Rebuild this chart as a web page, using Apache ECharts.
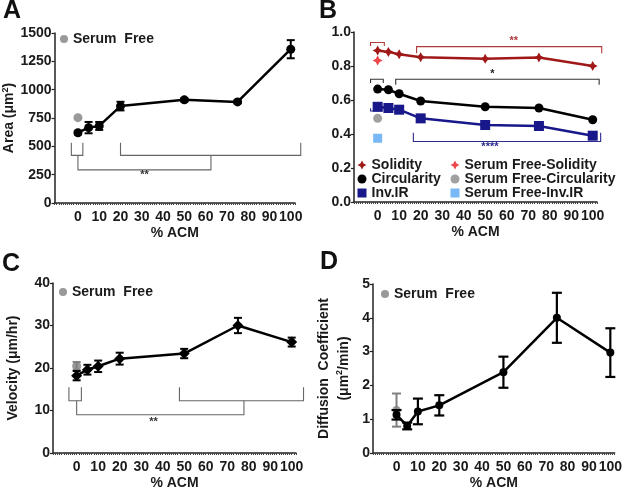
<!DOCTYPE html>
<html><head><meta charset="utf-8">
<script src="https://cdn.jsdelivr.net/npm/echarts@6/dist/echarts.min.js"></script>
<style>html,body{margin:0;padding:0;background:#fff}#c{width:625px;height:491px}</style>
</head><body><div id="c"></div>
<script>
// ---------- data ----------
const acm = [0, 5, 10, 20, 50, 75, 100];
const xTickLabels = [0, 10, 20, 30, 40, 50, 60, 70, 80, 90, 100];

const areaMean = [620, 665, 680, 855, 910, 892, 1357];
const areaErr = [15, 50, 35, 38, 15, 12, 80];
const areaSerumFree = [753];

const solidity = [0.891, 0.883, 0.869, 0.852, 0.842, 0.850, 0.800];
const circularity = [0.664, 0.660, 0.637, 0.594, 0.560, 0.553, 0.484];
const invIR = [0.560, 0.553, 0.543, 0.492, 0.453, 0.447, 0.390];
const sfSolidity = [0.832];
const sfCircularity = [0.492];
const sfInvIR = [0.375];

const velocity = [18.2, 19.6, 20.4, 22.2, 23.4, 30.0, 26.1];
const velocityErr = [1.1, 1.15, 1.35, 1.4, 1.1, 1.8, 1.05];
const velocitySerumFree = [20.5];
const velocitySerumFreeErr = [0.9];

const diffusion = [1.13, 0.80, 1.23, 1.41, 2.39, 4.00, 2.97];
const diffusionErr = [0.14, 0.10, 0.38, 0.30, 0.46, 0.74, 0.72];
const diffusionSerumFree = [1.27];
const diffusionSerumFreeErr = [0.49];

// significance brackets (data units)
const bracketsA = [
  [[-3.1, 531], [-3.1, 420], [2.3, 420], [2.3, 531]],
  [[20, 531], [20, 420], [104.7, 420], [104.7, 531]],
  [[0, 420], [0, 292], [62.5, 292], [62.5, 420]]
];
const starsA = [{ t: '**', x: 31.3, y: 245 }];
const bracketsBSol = [
  [[-3.3, 0.918], [-3.3, 0.938], [3.1, 0.938], [3.1, 0.918]],
  [[18.1, 0.875], [18.1, 0.914], [104.2, 0.914], [104.2, 0.875]]
];
const starsBSol = [{ t: '**', x: 63.3, y: 0.948 }];
const bracketsBCirc = [
  [[-3.3, 0.700], [-3.3, 0.722], [2.6, 0.722], [2.6, 0.700]],
  [[8.4, 0.690], [8.4, 0.722], [103, 0.722], [103, 0.690]]
];
const starsBCirc = [{ t: '*', x: 53.4, y: 0.752 }];
const bracketsBInv = [
  [[-3.3, 0.551], [-3.3, 0.535], [2.0, 0.535], [2.0, 0.551]],
  [[16.6, 0.408], [16.6, 0.356], [103.7, 0.356], [103.7, 0.408]]
];
const starsBInv = [{ t: '****', x: 52.2, y: 0.322 }];
const bracketsC = [
  [[-3.6, 15.5], [-3.6, 12.3], [2.2, 12.3], [2.2, 15.5]],
  [[47.8, 15.5], [47.8, 12.3], [105.5, 12.3], [105.5, 15.5]],
  [[0, 12.3], [0, 9.0], [77.8, 9.0], [77.8, 12.3]]
];
const starsC = [{ t: '**', x: 35.7, y: 7.4 }];

// ---------- helpers ----------
const FONT = 'Liberation Sans';
const TXT = '#1a1a1a';
const pair = (xs, ys) => xs.map((x, i) => [x, ys[i]]);
const errData = (xs, m, e) => xs.map((x, i) => [x, m[i] - e[i], m[i] + e[i]]);

function errSeries(gi, data, cap, color, w, z) {
  return {
    type: 'custom', xAxisIndex: gi, yAxisIndex: gi, silent: true, z: z || 3,
    encode: { x: 0, y: [1, 2] }, data: data,
    renderItem: function (params, api) {
      const x = api.value(0), lo = api.value(1), hi = api.value(2);
      const a = api.coord([x, lo]), b = api.coord([x, hi]);
      const st = { stroke: color, lineWidth: w };
      return { type: 'group', children: [
        { type: 'line', shape: { x1: a[0], y1: a[1], x2: b[0], y2: b[1] }, style: st },
        { type: 'line', shape: { x1: a[0] - cap, y1: a[1], x2: a[0] + cap, y2: a[1] }, style: st },
        { type: 'line', shape: { x1: b[0] - cap, y1: b[1], x2: b[0] + cap, y2: b[1] }, style: st }
      ] };
    }
  };
}

function bracketSeries(gi, brackets, stars, color, starColor, starSize) {
  const out = [];
  out.push({
    type: 'custom', xAxisIndex: gi, yAxisIndex: gi, silent: true, z: 2,
    data: brackets.map(b => [b[0][0], b[0][1]]),
    renderItem: function (params, api) {
      const pts = brackets[params.dataIndex].map(p => api.coord(p));
      return { type: 'polyline', shape: { points: pts }, style: { stroke: color, lineWidth: 1.1, fill: null } };
    }
  });
  out.push({
    type: 'custom', xAxisIndex: gi, yAxisIndex: gi, silent: true, z: 2,
    data: stars.map(s => [s.x, s.y]),
    renderItem: function (params, api) {
      const p = api.coord([api.value(0), api.value(1)]);
      return { type: 'text', style: { text: stars[params.dataIndex].t, x: p[0], y: p[1],
        textAlign: 'center', textVerticalAlign: 'middle', fill: starColor,
        font: 'bold ' + starSize + 'px ' + FONT } };
    }
  });
  return out;
}

const grids = [
  { left: 52, top: 33, width: 243, height: 170 },
  { left: 354, top: 32, width: 243, height: 170 },
  { left: 53, top: 283, width: 243, height: 172 },
  { left: 373, top: 284, width: 243, height: 170 }
];

function xAx(gi) {
  return {
    type: 'value', gridIndex: gi, min: -11, max: 102, interval: 1,
    name: '% ACM', nameLocation: 'middle', nameGap: 23,
    nameTextStyle: { fontSize: 14, fontWeight: 'bold', color: TXT, fontFamily: FONT },
    axisLine: { show: true, onZero: false, lineStyle: { color: '#222', width: 1.5 } },
    axisTick: { show: true, length: 2, lineStyle: { color: '#444', width: 1 } },
    axisLabel: { interval: 0, hideOverlap: false, margin: 7, fontSize: 14, fontWeight: 'bold', color: TXT, fontFamily: FONT,
      formatter: v => (xTickLabels.indexOf(v) >= 0 ? String(v) : '') },
    splitLine: { show: false }
  };
}
function yAx(gi, min, max, interval, fmt, name, gap, extra) {
  const o = {
    type: 'value', gridIndex: gi, min: min, max: max, interval: interval,
    axisLine: { show: true, onZero: false, lineStyle: { color: '#222', width: 1.5 } },
    axisTick: { show: true, length: 3, lineStyle: { color: '#222', width: 1.2 } },
    axisLabel: { margin: 3, fontSize: 14, fontWeight: 'bold', color: TXT, fontFamily: FONT, formatter: fmt },
    splitLine: { show: false }
  };
  if (name) {
    o.name = name; o.nameLocation = 'middle'; o.nameGap = gap;
    o.nameTextStyle = Object.assign({ fontSize: 14, fontWeight: 'bold', color: TXT, fontFamily: FONT,
      rich: { sup: { fontSize: 9, fontWeight: 'bold', color: TXT, fontFamily: FONT, padding: [0, 0, 8, 0] } } }, extra || {});
  }
  return o;
}

const STAR = 'path://M5,0 L6.8,3.2 L10,5 L6.8,6.8 L5,10 L3.2,6.8 L0,5 L3.2,3.2 Z';
const C_SOL = '#A01818', C_SFSOL = '#E8191E', C_CIRC = '#000000', C_SFC = '#888888', C_INV = '#18188A', C_SFINV = '#55A6F2';
const GRAY = '#808080';

const legTxt = { fontSize: 14, fontWeight: 'bold', color: TXT, fontFamily: FONT };

const option = {
  animation: false,
  backgroundColor: '#fff',
  textStyle: { fontFamily: FONT },
  title: [
    { text: 'A', left: 3, top: -1, padding: 0, textStyle: { fontSize: 25, fontWeight: 'bold', color: '#111', fontFamily: FONT } },
    { text: 'B', left: 319, top: -1, padding: 0, textStyle: { fontSize: 25, fontWeight: 'bold', color: '#111', fontFamily: FONT } },
    { text: 'C', left: 2, top: 252, padding: 0, textStyle: { fontSize: 25, fontWeight: 'bold', color: '#111', fontFamily: FONT } },
    { text: 'D', left: 320, top: 250, padding: 0, textStyle: { fontSize: 25, fontWeight: 'bold', color: '#111', fontFamily: FONT } }
  ],
  legend: [
    { left: 60, top: 32, padding: 0, itemWidth: 8, itemHeight: 8, textStyle: legTxt, data: [{ name: 'Serum  Free', icon: 'circle' }] },
    { left: 59, top: 285, padding: 0, itemWidth: 8, itemHeight: 8, textStyle: legTxt, data: [{ name: 'Serum  Free', icon: 'circle' }] },
    { left: 381, top: 287, padding: 0, itemWidth: 8, itemHeight: 8, textStyle: legTxt, data: [{ name: 'Serum  Free', icon: 'circle' }] },
    { left: 357.5, top: 158, padding: 0, orient: 'vertical', itemGap: 0, itemWidth: 9, itemHeight: 9,
      textStyle: Object.assign({ lineHeight: 14 }, legTxt),
      data: [{ name: 'Solidity', icon: STAR }, { name: 'Circularity', icon: 'circle' }, { name: 'Inv.IR', icon: 'rect' }] },
    { left: 450.5, top: 158, padding: 0, orient: 'vertical', itemGap: 0, itemWidth: 9, itemHeight: 9,
      textStyle: Object.assign({ lineHeight: 14 }, legTxt),
      data: [{ name: 'Serum Free-Solidity', icon: STAR }, { name: 'Serum Free-Circularity', icon: 'circle' }, { name: 'Serum Free-Inv.IR', icon: 'rect' }] }
  ],
  grid: grids,
  xAxis: [xAx(0), xAx(1), xAx(2), xAx(3)],
  yAxis: [
    yAx(0, 0, 1500, 250, v => v, 'Area (μm{sup|2})', 34),
    yAx(1, 0, 1, 0.2, v => v.toFixed(1), null),
    yAx(2, 0, 40, 10, v => v, 'Velocity (μm/hr)', 33),
    yAx(3, 0, 5, 1, v => v, 'Diffusion  Coefficient\n(μm{sup|2}/min)', 19, { lineHeight: 20 })
  ],
  series: [
    // ---- A ----
    ...bracketSeries(0, bracketsA, starsA, '#666', '#333', 11),
    { name: 'Serum  Free', type: 'scatter', xAxisIndex: 0, yAxisIndex: 0, symbol: 'circle', symbolSize: 9,
      itemStyle: { color: GRAY }, data: pair([0], areaSerumFree), z: 3 },
    errSeries(0, errData(acm, areaMean, areaErr), 4, '#000', 2, 4),
    { name: 'Area', type: 'line', xAxisIndex: 0, yAxisIndex: 0, symbol: 'circle', symbolSize: 9,
      itemStyle: { color: '#000' }, lineStyle: { color: '#000', width: 2.5 }, data: pair(acm, areaMean), z: 5 },
    // ---- B ----
    ...bracketSeries(1, bracketsBSol, starsBSol, '#B03A3A', '#B03A3A', 11),
    ...bracketSeries(1, bracketsBCirc, starsBCirc, '#333', '#222', 11),
    ...bracketSeries(1, bracketsBInv, starsBInv, '#2A2A90', '#2A2A90', 11),
    { name: 'Serum Free-Solidity', type: 'scatter', xAxisIndex: 1, yAxisIndex: 1, symbol: STAR, symbolSize: 10,
      itemStyle: { color: C_SFSOL }, data: pair([0], sfSolidity) },
    { name: 'Serum Free-Circularity', type: 'scatter', xAxisIndex: 1, yAxisIndex: 1, symbol: 'circle', symbolSize: 9,
      itemStyle: { color: C_SFC }, data: pair([0], sfCircularity) },
    { name: 'Serum Free-Inv.IR', type: 'scatter', xAxisIndex: 1, yAxisIndex: 1, symbol: 'rect', symbolSize: 9,
      itemStyle: { color: C_SFINV }, data: pair([0], sfInvIR) },
    { name: 'Solidity', type: 'line', xAxisIndex: 1, yAxisIndex: 1, symbol: STAR, symbolSize: 10,
      itemStyle: { color: C_SOL }, lineStyle: { color: C_SOL, width: 2.5 }, data: pair(acm, solidity) },
    { name: 'Circularity', type: 'line', xAxisIndex: 1, yAxisIndex: 1, symbol: 'circle', symbolSize: 9,
      itemStyle: { color: C_CIRC }, lineStyle: { color: C_CIRC, width: 2.5 }, data: pair(acm, circularity) },
    { name: 'Inv.IR', type: 'line', xAxisIndex: 1, yAxisIndex: 1, symbol: 'rect', symbolSize: 10,
      itemStyle: { color: C_INV }, lineStyle: { color: C_INV, width: 2.5 }, data: pair(acm, invIR) },
    // ---- C ----
    ...bracketSeries(2, bracketsC, starsC, '#666', '#333', 11),
    errSeries(2, errData([0], velocitySerumFree, velocitySerumFreeErr), 4, GRAY, 2, 2),
    { name: 'Serum  Free', type: 'scatter', xAxisIndex: 2, yAxisIndex: 2, symbol: 'circle', symbolSize: 9,
      itemStyle: { color: GRAY }, data: pair([0], velocitySerumFree), z: 2 },
    errSeries(2, errData(acm, velocity, velocityErr), 4, '#000', 2, 4),
    { name: 'Velocity', type: 'line', xAxisIndex: 2, yAxisIndex: 2, symbol: 'diamond', symbolSize: 11,
      itemStyle: { color: '#000' }, lineStyle: { color: '#000', width: 2.5 }, data: pair(acm, velocity), z: 5 },
    // ---- D ----
    errSeries(3, errData([0], diffusionSerumFree, diffusionSerumFreeErr), 4.5, GRAY, 2, 2),
    { name: 'Serum  Free', type: 'scatter', xAxisIndex: 3, yAxisIndex: 3, symbol: 'circle', symbolSize: 8,
      itemStyle: { color: GRAY }, data: pair([0], diffusionSerumFree), z: 2 },
    errSeries(3, errData(acm, diffusion, diffusionErr), 5, '#000', 2.2, 4),
    { name: 'Diffusion', type: 'line', xAxisIndex: 3, yAxisIndex: 3, symbol: 'circle', symbolSize: 8,
      itemStyle: { color: '#000' }, lineStyle: { color: '#000', width: 2.5 }, data: pair(acm, diffusion), z: 5 }
  ]
};

const chart = echarts.init(document.getElementById('c'), null, { renderer: 'canvas' });
chart.setOption(option);
</script>
</body></html>
